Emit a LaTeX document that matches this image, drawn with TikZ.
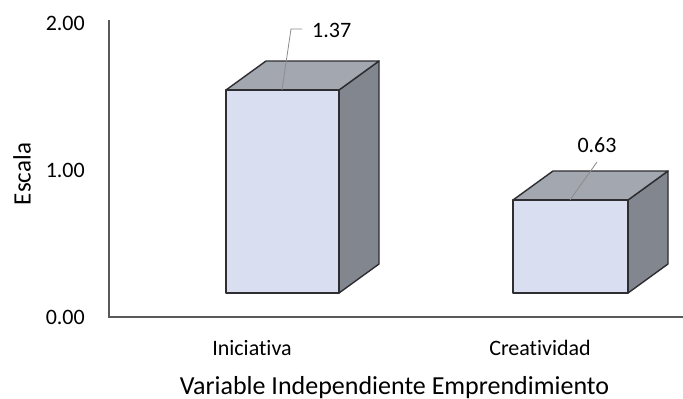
\documentclass[tikz,border=0pt]{standalone}
\usepackage{fontspec}
\setmainfont{Carlito}[RawFeature={-liga}]
\definecolor{frontc}{RGB}{217,222,240}
\definecolor{topc}{RGB}{163,167,176}
\definecolor{sidec}{RGB}{130,134,143}
\definecolor{edgec}{RGB}{45,45,50}
\definecolor{axisc}{RGB}{89,89,89}
\definecolor{leaderc}{RGB}{140,140,140}
\newcommand\mybarthreed[6]{%
  % #1 name, #2 x1, #3 x2, #4 ytop, #5 ybottom, #6 leader x
  \coordinate (#1-fl) at (#2,#4);
  \coordinate (#1-fr) at (#3,#4);
  \coordinate (#1-bl) at ([shift={(40,-29)}]#1-fl);
  \coordinate (#1-br) at ([shift={(40,-29)}]#1-fr);
  \coordinate (#1-lr) at (#3,#5);
  \coordinate (#1-ll) at (#2,#5);
  \coordinate (#1-lb) at ([shift={(40,-29)}]#1-lr);
  \filldraw[sidef] (#1-lr) -- (#1-lb) -- (#1-br) -- (#1-fr) -- cycle;
  \filldraw[topf] (#1-fl) -- (#1-bl) -- (#1-br) -- (#1-fr) -- cycle;
  \filldraw[frontf] (#1-ll) rectangle (#1-fr);
  \coordinate (#1-top) at (#6,#4);
}
\begin{document}
\begin{tikzpicture}[x=1pt,y=-1pt,
  frontf/.style={fill=frontc,draw=edgec,line width=1.4pt,line join=round},
  topf/.style={fill=topc,draw=edgec,line width=1.4pt,line join=round},
  sidef/.style={fill=sidec,draw=edgec,line width=1.4pt,line join=round},
  axisline/.style={draw=axisc,line width=2pt},
  lbl/.style={font=\fontsize{22}{26}\selectfont,inner sep=0pt,text=black},
  ttl/.style={font=\fontsize{26}{30}\selectfont,inner sep=0pt,text=black},
  leader/.style={draw=leaderc,line width=0.8pt}]
\useasboundingbox (0,0) rectangle (683,399);
\fill[white] (0,0) rectangle (683,399);
% bars
\mybarthreed{b1}{226}{339}{90}{293}{282}
\mybarthreed{b2}{513}{628}{200}{293}{570}
% axes
\coordinate (ytop) at (109,20);
\coordinate (orig) at (109,317);
\coordinate (xend) at (683,317);
\draw[axisline,line join=miter] (ytop) -- (orig) -- (xend);
% tick labels
\node[lbl,anchor=east] (t2) at (85,23) {2.00};
\node[lbl,anchor=east] (t1) at (85,170) {1.00};
\node[lbl,anchor=east] (t0) at (85,317) {0.00};
\node[ttl,rotate=90,font=\fontsize{25}{30}\selectfont] (ylab) at (22,174) {Escala};
% category labels
\node[lbl,anchor=base] (c1) at (252,355) {Iniciativa};
\node[lbl,anchor=base] (c2) at (540,355) {Creatividad};
\node[ttl,anchor=base] (xlab) at (394.5,394) {Variable Independiente Emprendimiento};
% value labels
\node[lbl,anchor=west] (v1) at (312,30) {1.37};
\node[lbl] (v2) at (597,145) {0.63};
\coordinate (v1k) at (291,29);
\coordinate (v1e) at (302,29);
\coordinate (v2e) at (597,162);
\draw[leader] (b1-top) -- (v1k) -- (v1e);
\draw[leader] (b2-top) -- (v2e);
\end{tikzpicture}
\end{document}
